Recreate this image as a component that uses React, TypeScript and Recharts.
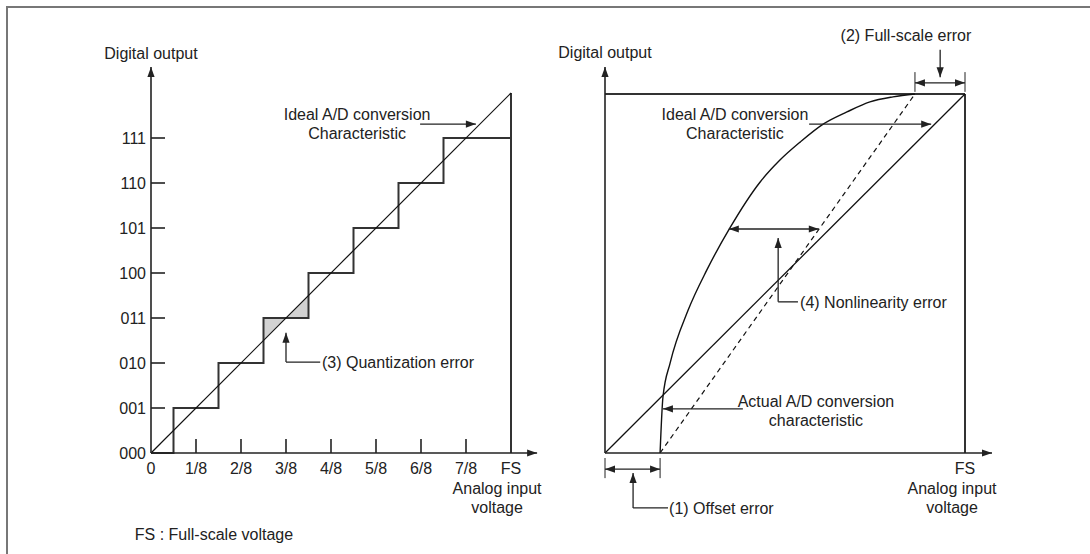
import React from "react";
import {
  ComposedChart,
  Line,
  Area,
  XAxis,
  YAxis,
  ReferenceLine,
  ReferenceDot,
} from "recharts";

// left panel: 3-bit ideal converter, x in 1/8 FS steps, y in output codes
const codeLabels = ["000", "001", "010", "011", "100", "101", "110", "111"];
const inputLabels = ["0", "1/8", "2/8", "3/8", "4/8", "5/8", "6/8", "7/8", "FS"];
const stairX = [0, 0.5, 1.5, 2.5, 3.5, 4.5, 5.5, 6.5, 8];
const stairCode = [0, 1, 2, 3, 4, 5, 6, 7, 7];
const idealX = [0, 8];
const idealCode = [0, 8];
const quantX = [2.5, 3, 3.5];
const quantLow = [2.5, 3, 3];
const quantHigh = [3, 3, 3.5];

// right panel: x and y as fraction of full scale
const actualX = [0.153, 0.161, 0.181, 0.231, 0.283, 0.347, 0.431, 0.486, 0.542, 0.606, 0.672, 0.736, 0.8, 0.861];
const actualY = [0, 0.156, 0.251, 0.398, 0.51, 0.627, 0.755, 0.816, 0.866, 0.916, 0.95, 0.978, 0.992, 1];
const offsetError = 0.153;
const fullScaleReach = 0.861;

const stairData = stairX.map((x, i) => ({ x, y: stairCode[i] }));
const idealLeftData = idealX.map((x, i) => ({ x, y: idealCode[i] }));
const quantData = quantX.map((x, i) => ({ x, range: [quantLow[i], quantHigh[i]] }));
const idealRightData = [
  { x: 0, y: 0 },
  { x: 1, y: 1 },
];
const actualData = actualX.map((x, i) => ({ x, y: actualY[i] }));
const gainLineData = [
  { x: offsetError, y: 0 },
  { x: fullScaleReach, y: 1 },
];

const FONT = '"Liberation Sans", Arial, Helvetica, sans-serif';
const INK = "#222";

const head = (x: number, y: number, fx: number, fy: number) => {
  const a = Math.atan2(y - fy, x - fx);
  const L = 10;
  const W = 3.6;
  const bx = x - L * Math.cos(a);
  const by = y - L * Math.sin(a);
  return `${x},${y} ${bx - W * Math.sin(a)},${by + W * Math.cos(a)} ${bx + W * Math.sin(a)},${by - W * Math.cos(a)}`;
};

const arrowShape =
  (start: boolean, end: boolean, w = 1.3) =>
  (p: any) =>
    (
      <g>
        <line x1={p.x1} y1={p.y1} x2={p.x2} y2={p.y2} stroke={INK} strokeWidth={w} />
        {end && <polygon points={head(p.x2, p.y2, p.x1, p.y1)} fill={INK} />}
        {start && <polygon points={head(p.x1, p.y1, p.x2, p.y2)} fill={INK} />}
      </g>
    );

const textShape =
  (lines: string[], anchor: "start" | "middle" | "end" = "middle") =>
  (p: any) =>
    (
      <text
        x={p.cx}
        y={p.cy}
        textAnchor={anchor}
        fontFamily={FONT}
        fontSize={16}
        fill={INK}
        dominantBaseline="central"
      >
        {lines.map((l, i) => (
          <tspan key={i} x={p.cx} dy={i === 0 ? 0 : 19}>
            {l}
          </tspan>
        ))}
      </text>
    );

const seg = (
  key: string,
  a: [number, number],
  b: [number, number],
  start = false,
  end = true,
  w = 1.3
) => (
  <ReferenceLine
    key={key}
    segment={[
      { x: a[0], y: a[1] },
      { x: b[0], y: b[1] },
    ]}
    ifOverflow="visible"
    shape={arrowShape(start, end, w)}
  />
);

const label = (
  key: string,
  at: [number, number],
  lines: string[],
  anchor: "start" | "middle" | "end" = "middle"
) => (
  <ReferenceDot key={key} x={at[0]} y={at[1]} r={0} ifOverflow="visible" shape={textShape(lines, anchor)} />
);

const InputTick = (p: any) => {
  const v = p.payload.value;
  return (
    <g>
      {v > 0 && v < 8 && <line x1={p.x} x2={p.x} y1={p.y} y2={p.y - 14} stroke={INK} strokeWidth={1.6} />}
      <text x={p.x} y={p.y + 15} textAnchor="middle" dominantBaseline="central" fontFamily={FONT} fontSize={16} fill={INK}>
        {inputLabels[v]}
      </text>
    </g>
  );
};

const CodeTick = (p: any) => {
  const v = p.payload.value;
  return (
    <g>
      {v > 0 && <line x1={p.x} x2={p.x + 14} y1={p.y} y2={p.y} stroke={INK} strokeWidth={1.6} />}
      <text x={p.x - 5} y={p.y} textAnchor="end" dominantBaseline="central" fontFamily={FONT} fontSize={16} fill={INK}>
        {codeLabels[v]}
      </text>
    </g>
  );
};

const FsTick = (p: any) => (
  <text x={p.x} y={p.y + 15} textAnchor="middle" dominantBaseline="central" fontFamily={FONT} fontSize={16} fill={INK}>
    FS
  </text>
);

const LeftPanel = () => (
  <ComposedChart width={545} height={554} margin={{ top: 93, right: 34, bottom: 71, left: 111 }}>
    <XAxis
      type="number"
      dataKey="x"
      domain={[0, 8]}
      ticks={[0, 1, 2, 3, 4, 5, 6, 7, 8]}
      interval={0}
      tickSize={0}
      tickMargin={0}
      axisLine={false}
      tickLine={false}
      tick={InputTick}
      height={30}
    />
    <YAxis
      type="number"
      domain={[0, 8]}
      ticks={[0, 1, 2, 3, 4, 5, 6, 7]}
      interval={0}
      tickSize={0}
      tickMargin={0}
      axisLine={false}
      tickLine={false}
      tick={CodeTick}
      width={40}
    />
    <Area
      data={quantData}
      dataKey="range"
      type="linear"
      stroke="none"
      fill="#d2d2d2"
      fillOpacity={1}
      isAnimationActive={false}
    />
    <ReferenceLine x={8} stroke="#333" strokeWidth={2} ifOverflow="visible" />
    <Line
      data={stairData}
      dataKey="y"
      type="stepAfter"
      stroke="#333"
      strokeWidth={2}
      dot={false}
      isAnimationActive={false}
    />
    <Line
      data={idealLeftData}
      dataKey="y"
      type="linear"
      stroke="#111"
      strokeWidth={1.2}
      dot={false}
      isAnimationActive={false}
    />
    {seg("ya", [0, 0], [0, 8.58], false, true, 1.6)}
    {seg("xa", [0, 0], [8.58, 0], false, true, 1.6)}
    {seg("ideal", [5.98, 7.31], [7.22, 7.31])}
    {seg("qv", [3, 2.02], [3, 2.67])}
    {seg("qh", [3, 2.02], [3.76, 2.02], false, false)}
    {label("dig", [0, 8.89], ["Digital output"])}
    {label("idl", [4.58, 7.53], ["Ideal A/D conversion", "Characteristic"])}
    {label("qt", [3.8, 2.02], ["(3) Quantization error"], "start")}
    {label("ain", [7.69, -0.78], ["Analog input", "voltage"])}
    {label("fsn", [-0.36, -1.8], ["FS : Full-scale voltage"], "start")}
  </ComposedChart>
);

const RightPanel = () => (
  <ComposedChart width={545} height={554} margin={{ top: 94, right: 125, bottom: 71, left: 60 }}>
    <XAxis
      type="number"
      dataKey="x"
      domain={[0, 1]}
      ticks={[1]}
      interval={0}
      tickSize={0}
      tickMargin={0}
      axisLine={false}
      tickLine={false}
      tick={FsTick}
      height={30}
    />
    <YAxis type="number" domain={[0, 1]} hide />
    <ReferenceLine y={1} stroke="#333" strokeWidth={2} ifOverflow="visible" />
    <ReferenceLine x={1} stroke="#333" strokeWidth={2} ifOverflow="visible" />
    <Line
      data={idealRightData}
      dataKey="y"
      type="linear"
      stroke="#111"
      strokeWidth={1.3}
      dot={false}
      isAnimationActive={false}
    />
    <Line
      data={gainLineData}
      dataKey="y"
      type="linear"
      stroke="#111"
      strokeWidth={1.2}
      strokeDasharray="5 4"
      dot={false}
      isAnimationActive={false}
    />
    <Line
      data={actualData}
      dataKey="y"
      type="monotone"
      stroke="#111"
      strokeWidth={1.4}
      dot={false}
      isAnimationActive={false}
    />
    {seg("ya", [0, 0], [0, 1.075], false, true, 1.6)}
    {seg("xa", [0, 0], [1.075, 0], false, true, 1.6)}
    {seg("ideal", [0.567, 0.916], [0.906, 0.916])}
    {seg("act", [0.383, 0.123], [0.161, 0.123])}
    {seg("nl", [0.344, 0.624], [0.594, 0.624], true, true)}
    {seg("nlv", [0.481, 0.421], [0.481, 0.599])}
    {seg("nlh", [0.481, 0.421], [0.536, 0.421], false, false)}
    {seg("ot0", [0, -0.014], [0, -0.07], false, false, 1)}
    {seg("ot1", [offsetError, -0.014], [offsetError, -0.07], false, false, 1)}
    {seg("od", [0, -0.045], [offsetError, -0.045], true, true)}
    {seg("ov", [0.078, -0.153], [0.078, -0.056])}
    {seg("oh", [0.078, -0.153], [0.175, -0.153], false, false)}
    {seg("ft0", [fullScaleReach, 1.006], [fullScaleReach, 1.061], false, false, 1)}
    {seg("ft1", [1, 1.006], [1, 1.061], false, false, 1)}
    {seg("fd", [fullScaleReach, 1.031], [1, 1.031], true, true)}
    {seg("fv", [0.931, 1.123], [0.931, 1.047])}
    {label("dig", [0, 1.117], ["Digital output"])}
    {label("fse", [0.836, 1.164], ["(2) Full-scale error"])}
    {label("idl", [0.361, 0.944], ["Ideal A/D conversion", "Characteristic"])}
    {label("act", [0.586, 0.145], ["Actual A/D conversion", "characteristic"])}
    {label("nle", [0.542, 0.421], ["(4) Nonlinearity error"], "start")}
    {label("ofe", [0.178, -0.153], ["(1) Offset error"], "start")}
    {label("ain", [0.964, -0.0975], ["Analog input", "voltage"])}
  </ComposedChart>
);

export default function App() {
  return (
    <div
      style={{
        position: "absolute",
        left: 0,
        top: 0,
        width: 1090,
        height: 554,
        background: "#fff",
        overflow: "hidden",
      }}
    >
      <div
        style={{
          position: "absolute",
          left: 6,
          top: 6,
          width: 1100,
          height: 560,
          borderLeft: "2px solid #777",
          borderTop: "2px solid #777",
        }}
      />
      <div style={{ position: "absolute", left: 0, top: 0 }}>
        <LeftPanel />
      </div>
      <div style={{ position: "absolute", left: 545, top: 0 }}>
        <RightPanel />
      </div>
    </div>
  );
}
